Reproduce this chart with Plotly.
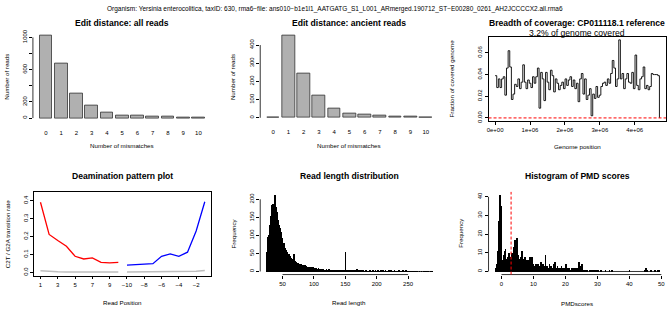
import plotly.graph_objects as go

W, H = 668, 310
FONT = "Liberation Sans, Arial, Helvetica, sans-serif"

main_title = ("Organism: Yersinia enterocolitica, taxID: 630, rma6\u2212file: "
              "ans010\u2212b1e1l1_AATGATG_S1_L001_ARmerged.190712_ST\u2212E00280_0261_AH2JCCCCX2.all.rma6")

# ---- Edit distance ----
mismatches = list(range(11))
edit_all = [1020, 680, 310, 150, 65, 35, 30, 22, 15, 12, 5]
edit_ancient = [3, 451, 243, 124, 49, 22, 19, 12, 9, 9, 4]

# ---- Breadth of coverage (fraction covered per genome bin) ----
cov_bin_size = 46600
coverage = [0.039, 0.028, 0.036, 0.028, 0.036, 0.038, 0.021, 0.046, 0.062, 0.047,
            0.017, 0.022, 0.031, 0.029, 0.036, 0.027, 0.033, 0.049, 0.033, 0.027,
            0.035, 0.032, 0.028, 0.038, 0.032, 0.038, 0.046, 0.009, 0.042, 0.036,
            0.016, 0.042, 0.033, 0.026, 0.044, 0.039, 0.024, 0.036, 0.032, 0.026,
            0.030, 0.033, 0.027, 0.036, 0.030, 0.035, 0.038, 0.029, 0.035, 0.027,
            0.032, 0.015, 0.036, 0.041, 0.022, 0.036, 0.017, 0.021, 0.027, 0.002,
            0.022, 0.018, 0.029, 0.019, 0.021, 0.029, 0.032, 0.033, 0.030, 0.036,
            0.032, 0.041, 0.053, 0.046, 0.029, 0.036, 0.072, 0.036, 0.041, 0.027,
            0.036, 0.041, 0.033, 0.032, 0.042, 0.027, 0.058, 0.030, 0.026, 0.036,
            0.038, 0.047, 0.027, 0.030, 0.026, 0.029, 0.041, 0.040, 0.040, 0.040,
            0.039, 0.0]
coverage_subtitle = "3.2% of genome covered"
cov_xticks = [0, 1e6, 2e6, 3e6, 4e6]
cov_xticklabels = ["0e+00", "1e+06", "2e+06", "3e+06", "4e+06"]

# ---- Deamination ----
deam_index_5p = list(range(1, 11))
deam_index_3p = list(range(11, 21))
deam_tick_index = [1, 3, 5, 7, 9, 11, 13, 15, 17, 19]
deam_tick_labels = ["1", "3", "5", "7", "9", "\u221210", "\u22128", "\u22126", "\u22124", "\u22122"]
c2t = [0.391, 0.212, 0.178, 0.146, 0.090, 0.075, 0.081, 0.056, 0.053, 0.056]
g2a = [0.041, 0.045, 0.045, 0.049, 0.090, 0.103, 0.090, 0.113, 0.231, 0.394]
other_5p = [0.010, 0.005, 0.004, 0.003, 0.003, 0.003, 0.003, 0.003, 0.003, 0.003]
other_3p = [0.003, 0.003, 0.003, 0.003, 0.003, 0.003, 0.003, 0.004, 0.006, 0.011]

# ---- Read length distribution (1 bp bins starting at 25) ----
len_start = 25
len_counts = [
    55, 60, 95, 100, 125, 130, 155, 160, 185, 180,
    188, 175, 178, 212, 180, 170, 165, 150, 142, 130,
    128, 120, 110, 105, 92, 88, 80, 78, 70, 66,
    60, 57, 55, 50, 48, 47, 50, 42, 38, 35,
    33, 36, 30, 48, 32, 28, 26, 27, 24, 22,
    25, 20, 22, 19, 21, 18, 17, 19, 15, 16,
    14, 17, 13, 15, 12, 14, 11, 13, 12, 10,
    14, 11, 9, 12, 10, 9, 11, 8, 10, 9,
    7, 8, 10, 6, 7, 8, 5, 7, 6, 4,
    6, 5, 3, 5, 4, 6, 3, 5, 4, 6,
    3, 4, 5, 3, 4, 2, 5, 3, 4, 2,
    3, 5, 2, 3, 2, 4, 2, 3, 1, 2,
    3, 2, 1, 2, 3, 55, 3, 2, 1, 2,
    3, 1, 2, 1, 2, 3,
    2, 1, 3, 2, 4, 5, 3, 6, 2, 3,
    1, 2, 1, 0, 2, 1, 1, 2, 0, 1,
    1, 0, 2, 1, 0, 1, 1, 0, 2, 1,
    0, 1, 1, 2, 0, 1, 0, 3, 1, 0,
    1, 2, 0, 1, 1, 0, 2, 1, 0, 3,
    1, 0, 1, 2, 0, 1, 0, 1, 2, 0,
    1, 0, 2, 1, 0, 0, 1, 2, 0, 1,
    0, 1, 0, 1, 2, 0, 1, 0, 0, 1,
    0, 2, 1, 0, 1, 0, 2, 1, 0, 1,
    1, 0, 0, 1, 0, 1, 0, 0, 1, 0,
    0, 1, 0, 0, 1, 0, 0, 1, 0, 0,
    1, 0, 0, 0, 1, 0, 0, 1, 0, 0,
    0, 1, 0, 0, 0, 1, 0, 1]

# ---- PMD scores histogram (0.25 wide bins starting at -2) ----
pmd_start = -2.0
pmd_width = 0.25
pmd_counts = [
    2, 4, 7, 11,   27, 41, 35, 22,   6, 3, 9, 11,   12, 7, 4, 8,
    10, 9, 4, 8,   10, 4, 13, 9,   17, 16, 18, 14,   9, 4, 7, 8,
    6, 11, 7, 6,   8, 5, 4, 6,   4, 6, 3, 8,   7, 8, 4, 3,
    3, 2, 4, 3,   2, 4, 3, 2,   5, 2, 3, 4,   2, 3, 9, 2,
    3, 2, 1, 4,   2, 3, 1, 2,   4, 2, 5, 2,   1, 3, 2, 2,
    1, 2, 3, 1,   2, 1, 2, 1,   4, 1, 2, 1,   2, 1, 1, 2,
    1, 2, 1, 2,   2, 1, 2, 1,   5, 3, 1, 2,   4, 1, 1, 0,
    1, 0, 1, 0,   0, 1, 0, 1,   1, 1, 0, 1,   0, 1, 0, 0,
    1, 0, 0, 1,   0, 0, 0, 0,   0, 1, 0, 0,   0, 0, 1, 0,
    0, 1, 0, 0,   0, 0, 0, 0,   0, 0, 0, 0,   0, 0, 0, 0,
    0, 0, 0, 0,   0, 0, 0, 1,   0, 0, 0, 0,   0, 0, 0, 0,
    0, 0, 0, 0,   0, 0, 0, 0,   0, 0, 1, 0,   2, 1, 0, 0,
    0, 0, 1, 0,   0, 0, 0, 1,   0, 0, 1, 0,   1]
pmd_threshold = 3

# ---------------------------------------------------------------------------
def dx(a, b):
    return [a / W, b / W]


def dy(top, bottom):
    return [1 - bottom / H, 1 - top / H]


def ext(lo, hi, f=0.04):
    r = hi - lo
    return [lo - f * r, hi + f * r]


tickfont = dict(size=6, color="black", family=FONT)
base_axis = dict(showgrid=False, zeroline=False, ticks="outside", ticklen=3,
                 tickwidth=0.8, tickcolor="black", tickfont=tickfont,
                 linecolor="black", linewidth=0.8, showline=False)

fig = go.Figure()

# Panel 1 & 2 bars
bar_w = 1 / 1.2
fig.add_trace(go.Bar(x=mismatches, y=edit_all, width=bar_w, xaxis="x", yaxis="y",
                     marker=dict(color="#B0B0B0", line=dict(color="#333333", width=0.8))))
fig.add_trace(go.Bar(x=mismatches, y=edit_ancient, width=bar_w, xaxis="x2", yaxis="y2",
                     marker=dict(color="#B0B0B0", line=dict(color="#333333", width=0.8))))

# Panel 3 coverage step plot
cov_x = [i * cov_bin_size for i in range(len(coverage))]
fig.add_trace(go.Scatter(x=cov_x, y=coverage, mode="lines", line=dict(shape="hv", color="black", width=0.9),
                         xaxis="x3", yaxis="y3"))

# Panel 4 deamination
fig.add_trace(go.Scatter(x=deam_index_5p, y=other_5p, mode="lines", line=dict(color="#BEBEBE", width=1.5),
                         xaxis="x4", yaxis="y4"))
fig.add_trace(go.Scatter(x=deam_index_3p, y=other_3p, mode="lines", line=dict(color="#BEBEBE", width=1.5),
                         xaxis="x4", yaxis="y4"))
fig.add_trace(go.Scatter(x=deam_index_5p, y=c2t, mode="lines", line=dict(color="#FF0000", width=1.3),
                         xaxis="x4", yaxis="y4"))
fig.add_trace(go.Scatter(x=deam_index_3p, y=g2a, mode="lines", line=dict(color="#0000FF", width=1.3),
                         xaxis="x4", yaxis="y4"))

# Panel 5 read length histogram
len_x = [len_start + i + 0.5 for i in range(len(len_counts))]
fig.add_trace(go.Bar(x=len_x, y=len_counts, width=1, xaxis="x5", yaxis="y5",
                     marker=dict(color="black", line=dict(width=0))))
fig.add_trace(go.Scatter(x=[len_start, len_start + len(len_counts)], y=[0, 0], mode="lines",
                         line=dict(color="black", width=0.8), xaxis="x5", yaxis="y5"))

# Panel 6 PMD histogram
pmd_x = [pmd_start + (i + 0.5) * pmd_width for i in range(len(pmd_counts))]
fig.add_trace(go.Bar(x=pmd_x, y=pmd_counts, width=pmd_width, xaxis="x6", yaxis="y6",
                     marker=dict(color="black", line=dict(width=0))))
pmd_end = pmd_start + len(pmd_counts) * pmd_width
fig.add_trace(go.Scatter(x=[pmd_start, pmd_end], y=[0, 0], mode="lines",
                         line=dict(color="black", width=0.8), xaxis="x6", yaxis="y6"))

# ---- axes ----
bar_xrange = [-(0.5 * bar_w) - 0.52 / 1.2, len(mismatches) - 1 + 0.5 * bar_w + 0.52 / 1.2]

layout_axes = {}
hidden_ticks = dict(ticks="outside", ticklen=5, tickcolor="rgba(0,0,0,0)")

layout_axes["xaxis"] = dict(base_axis, **hidden_ticks, domain=dx(31, 210), anchor="y", range=bar_xrange,
                            tickvals=mismatches, ticktext=[str(m) for m in mismatches])
layout_axes["yaxis"] = dict(base_axis, domain=dy(30, 120.3), anchor="x", range=ext(0, max(edit_all)),
                            tickvals=[0, 200, 400, 600, 800, 1000],
                            ticktext=["0", "200", "", "600", "", "1000"], tickangle=-90)
layout_axes["xaxis2"] = dict(base_axis, **hidden_ticks, domain=dx(259, 438), anchor="y2", range=bar_xrange,
                             tickvals=mismatches, ticktext=[str(m) for m in mismatches])
layout_axes["yaxis2"] = dict(base_axis, domain=dy(30, 120), anchor="x2", range=ext(0, max(edit_ancient)),
                             tickvals=[0, 100, 200, 300, 400], tickangle=-90)

layout_axes["xaxis3"] = dict(base_axis, domain=dx(488, 666), anchor="y3", range=ext(0, cov_x[-1]),
                             tickvals=cov_xticks, ticktext=cov_xticklabels, showline=True, mirror=True)
layout_axes["yaxis3"] = dict(base_axis, domain=dy(34.3, 120), anchor="x3", range=ext(0, max(coverage)),
                             tickvals=[0, 0.02, 0.04, 0.06], ticktext=["0.00", "0.02", "0.04", "0.06"],
                             tickangle=-90, showline=True, mirror=True)

layout_axes["xaxis4"] = dict(base_axis, domain=dx(32, 210), anchor="y4", range=ext(1, 20),
                             tickvals=deam_tick_index, ticktext=deam_tick_labels, showline=True, mirror=True)
layout_axes["yaxis4"] = dict(base_axis, domain=dy(192.3, 277), anchor="x4", range=ext(0, 0.43),
                             tickvals=[0, 0.1, 0.2, 0.3, 0.4], ticktext=["0.0", "0.1", "0.2", "0.3", "0.4"],
                             tickangle=-90, showline=True, mirror=True)

layout_axes["xaxis5"] = dict(base_axis, domain=dx(259, 438.5), anchor="y5",
                             range=ext(len_start, len_start + len(len_counts)),
                             tickvals=[50, 100, 150, 200, 250])
layout_axes["yaxis5"] = dict(base_axis, domain=dy(192, 276), anchor="x5", range=ext(0, max(len_counts)),
                             tickvals=[0, 50, 100, 150, 200], tickangle=-90)

layout_axes["xaxis6"] = dict(base_axis, domain=dx(488, 665.5), anchor="y6", range=ext(pmd_start, pmd_end),
                             tickvals=[0, 10, 20, 30, 40, 50])
layout_axes["yaxis6"] = dict(base_axis, domain=dy(192, 276), anchor="x6", range=ext(0, max(pmd_counts)),
                             tickvals=[0, 10, 20, 30, 40], tickangle=-90)

# R-style axis lines spanning first..last tick
line_style = dict(color="black", width=0.8)
shapes = [
    dict(type="line", xref="x domain", yref="y", x0=0, x1=0, y0=0, y1=1000, line=line_style),
    dict(type="line", xref="x2 domain", yref="y2", x0=0, x1=0, y0=0, y1=400, line=line_style),
    dict(type="line", xref="x5", yref="y5 domain", x0=50, x1=250, y0=0, y1=0, line=line_style),
    dict(type="line", xref="x5 domain", yref="y5", x0=0, x1=0, y0=0, y1=200, line=line_style),
    dict(type="line", xref="x6", yref="y6 domain", x0=0, x1=50, y0=0, y1=0, line=line_style),
    dict(type="line", xref="x6 domain", yref="y6", x0=0, x1=0, y0=0, y1=40, line=line_style),
    dict(type="line", xref="x3 domain", yref="y3", x0=0, x1=1, y0=0, y1=0,
         line=dict(color="#FF0000", width=1, dash="3px,2px")),
    dict(type="line", xref="x6", yref="y6 domain", x0=pmd_threshold, x1=pmd_threshold, y0=0, y1=1,
         line=dict(color="#FF0000", width=1, dash="3px,2px")),
]


def ann(text, x, y, size=6.2, bold=False, angle=0):
    if bold:
        text = "<b>" + text + "</b>"
    return dict(text=text, x=x / W, y=1 - y / H, xref="paper", yref="paper", showarrow=False,
                xanchor="center", yanchor="middle", textangle=angle,
                font=dict(size=size, color="black", family=FONT))


TS = 8.6
annotations = [
    ann(main_title, 334, 6, size=6.5),
    ann("Edit distance: all reads", 120.5, 20, TS, True),
    ann("Edit distance: ancient reads", 348.5, 20, TS, True),
    ann("Breadth of coverage: CP011118.1 reference", 577, 20, TS, True),
    ann(coverage_subtitle, 577, 30, 8.6),
    ann("Deamination pattern plot", 121, 176, TS, True),
    ann("Read length distribution", 348.5, 176, TS, True),
    ann("Histogram of PMD scores", 577, 176, TS, True),
    ann("Number of mismatches", 120.5, 145),
    ann("Number of mismatches", 348.5, 145),
    ann("Genome position", 577, 146),
    ann("Read Position", 121, 304),
    ann("Read length", 348.5, 304),
    ann("PMDscores", 577, 305),
    ann("Number of reads", 5, 75, angle=-90),
    ann("Number of reads", 231, 75, angle=-90),
    ann("Fraction of covered genome", 451, 77, angle=-90),
    ann("C2T / G2A transition rate", 5, 234, angle=-90),
    ann("Frequency", 232, 234, angle=-90),
    ann("Frequency", 460, 234, angle=-90),
]

fig.update_layout(
    width=W, height=H, margin=dict(l=0, r=0, t=0, b=0),
    paper_bgcolor="white", plot_bgcolor="white",
    showlegend=False, bargap=0, font=dict(family=FONT, color="black"),
    shapes=shapes, annotations=annotations, **layout_axes,
)

fig.write_html("out.html", config={"displayModeBar": False},
               post_script="document.body.style.margin='0';document.body.style.padding='0';document.body.style.overflow='hidden';")
